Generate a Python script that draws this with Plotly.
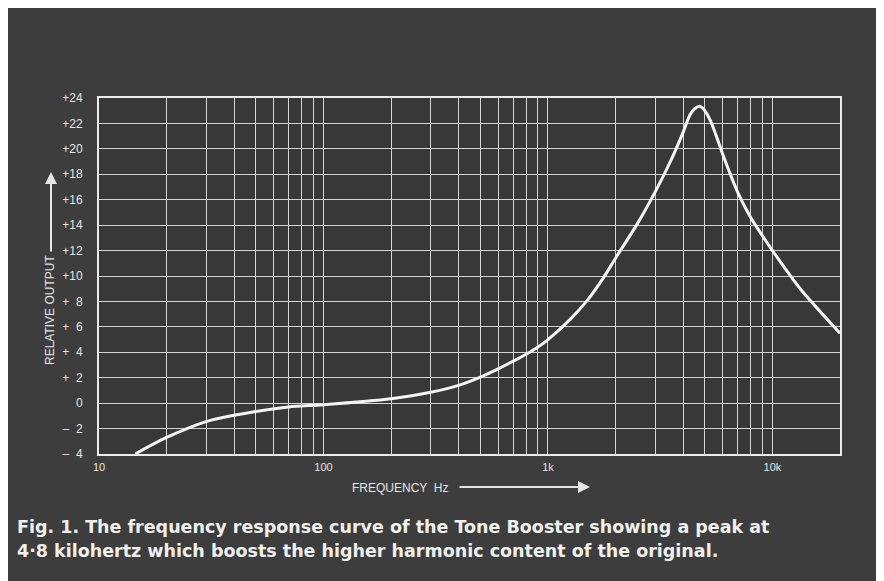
import plotly.graph_objects as go

# ---- data ----
freq_hz = [14.5, 20, 30, 40, 50, 70, 100, 200, 300, 400, 500, 600, 700, 800, 900,
           1000, 1250, 1500, 1750, 2000, 2500, 3000, 3500, 4000, 4300, 4500, 4750, 5000,
           5300, 5600, 6000, 7000, 8000, 9000, 10000, 13300, 20000]
output_db = [-4.0, -2.7, -1.45, -0.95, -0.65, -0.3, -0.12, 0.35, 0.85, 1.4, 2.05, 2.7, 3.3, 3.85, 4.4,
             5.0, 6.55, 8.1, 9.75, 11.4, 14.1, 16.6, 18.95, 21.3, 22.7, 23.15, 23.35, 23.0,
             22.2, 21.1, 19.6, 16.6, 14.6, 13.2, 12.0, 9.0, 5.5]

x_grid_vals = [m * 10 ** e for e in (1, 2, 3) for m in range(1, 10)] + [10000, 20000]
x_tick_labels = {10: "10", 100: "100", 1000: "1k", 10000: "10k"}
y_tick_vals = list(range(-4, 25, 2))


def y_label(v):
    if v == 0:
        return "0"
    sign = "+" if v > 0 else "\u2013"
    pad = "" if abs(v) >= 10 else "\u2007"
    return sign + pad + str(abs(v))


y_tick_text = [y_label(v) for v in y_tick_vals]

caption_lines = ["Fig. 1. The frequency response curve of the Tone Booster showing a peak at",
                 "4\u00b78 kilohertz which boosts the higher harmonic content of the original."]

# The page body adds an 8px margin, so the figure starts at (8, 8) in the window.
OFF = 8
W, H = 870, 573
L, R, T, B = 99 - OFF, 840 - OFF, 98 - OFF, 454 - OFF
FG = "#e6e6e6"
BG = "#3d3d3d"


def px(x):
    return (x - OFF - L) / (R - L)


def py(y):
    return (B - (y - OFF)) / (B - T)


fig = go.Figure()
fig.add_trace(go.Scatter(x=freq_hz, y=output_db, mode="lines",
                         line=dict(color="#f4f4f4", width=3, shape="spline", smoothing=0.8),
                         hoverinfo="skip", showlegend=False))

fig.update_layout(
    width=W, height=H,
    margin=dict(l=L, r=W - R, t=T, b=H - B, pad=0),
    paper_bgcolor=BG, plot_bgcolor="#383838",
    font=dict(family="Liberation Sans, Arial", color=FG, size=11),
    xaxis=dict(type="log", range=[1, 4.30103], tickvals=x_grid_vals,
               ticktext=[x_tick_labels.get(v, "") for v in x_grid_vals],
               showgrid=True, gridcolor="#d4d4d4", gridwidth=1.4,
               showline=True, linecolor="#ececec", linewidth=2, mirror=True,
               ticks="", ticklabelstandoff=2, tickfont=dict(size=11, color=FG), zeroline=False),
    yaxis=dict(range=[-4, 24], tickvals=y_tick_vals, ticktext=y_tick_text,
               showgrid=True, gridcolor="#d4d4d4", gridwidth=1.4,
               showline=True, linecolor="#ececec", linewidth=2, mirror=True,
               ticks="", ticklabelstandoff=12, tickfont=dict(size=12, color=FG), zeroline=False),
)

ann = []
# y axis title + arrow
ann.append(dict(xref="paper", yref="paper", x=px(50), y=py(310), xanchor="center", yanchor="middle",
                text="RELATIVE OUTPUT", textangle=-90, showarrow=False, font=dict(size=12, color=FG)))
ann.append(dict(xref="paper", yref="paper", x=px(51), y=py(172), ax=0, ay=81,
                text="", showarrow=True, arrowhead=2,
                arrowsize=1.2, arrowwidth=2, arrowcolor=FG))
# x axis title + arrow
ann.append(dict(xref="paper", yref="paper", x=px(400), y=py(488), xanchor="center", yanchor="middle",
                text="FREQUENCY  Hz", showarrow=False, font=dict(size=12, color=FG)))
ann.append(dict(xref="paper", yref="paper", x=px(590), y=py(487), ax=-132, ay=0,
                text="", showarrow=True, arrowhead=2,
                arrowsize=1.2, arrowwidth=2, arrowcolor=FG))
# caption
for i, line in enumerate(caption_lines):
    ann.append(dict(xref="paper", yref="paper", x=px(15), y=py(527 + 23.5 * i),
                    xanchor="left", yanchor="middle",
                    text="<b>" + line + "</b>", showarrow=False,
                    font=dict(size=17.5, color="#f0f0f0", family="DejaVu Sans, Liberation Sans, Arial")))
fig.update_layout(annotations=ann)

fig.write_html("out.html")
